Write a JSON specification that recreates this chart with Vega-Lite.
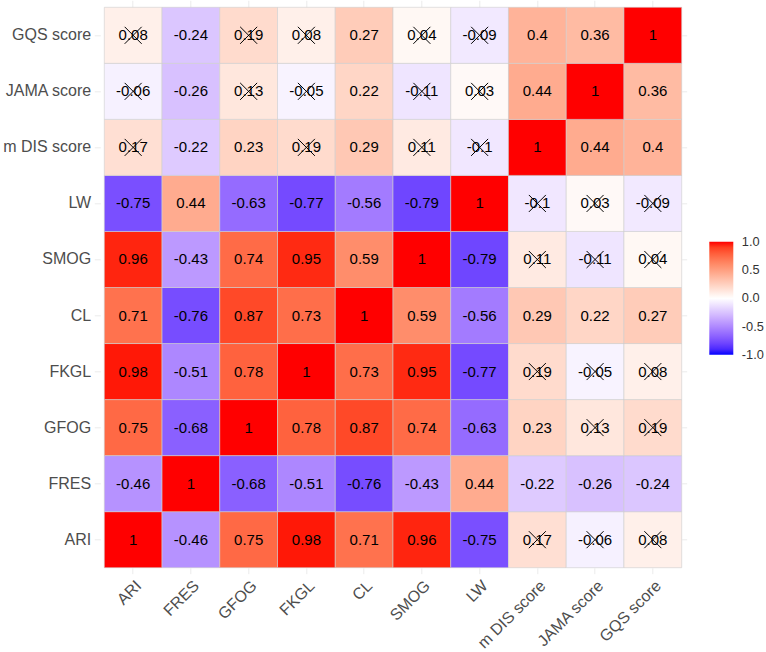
{
  "$schema": "https://vega.github.io/schema/vega-lite/v6.json",
  "width": 577.4,
  "height": 560.4,
  "autosize": {"type": "none"},
  "padding": {"left": 104.3, "top": 7.3, "right": 84.3, "bottom": 84.3},
  "background": "white",
  "config": {
    "view": {"stroke": null},
    "font": "Liberation Sans",
    "locale": {"number": {"decimal": ".", "thousands": ",", "grouping": [3], "currency": ["$", ""], "minus": "-"}},
    "axis": {"domain": false, "grid": false, "title": null, "labelFont": "Liberation Sans", "labelFontSize": 16, "labelColor": "#4d4d4d", "tickColor": "#ebebeb", "tickWidth": 1}
  },
  "data": {"values": [
    {"a":"ARI","b":"ARI","r":1},{"a":"ARI","b":"FRES","r":-0.46},{"a":"ARI","b":"GFOG","r":0.75},{"a":"ARI","b":"FKGL","r":0.98},{"a":"ARI","b":"CL","r":0.71},{"a":"ARI","b":"SMOG","r":0.96},{"a":"ARI","b":"LW","r":-0.75},{"a":"ARI","b":"m DIS score","r":0.17,"ns":1},{"a":"ARI","b":"JAMA score","r":-0.06,"ns":1},{"a":"ARI","b":"GQS score","r":0.08,"ns":1},
    {"a":"FRES","b":"ARI","r":-0.46},{"a":"FRES","b":"FRES","r":1},{"a":"FRES","b":"GFOG","r":-0.68},{"a":"FRES","b":"FKGL","r":-0.51},{"a":"FRES","b":"CL","r":-0.76},{"a":"FRES","b":"SMOG","r":-0.43},{"a":"FRES","b":"LW","r":0.44},{"a":"FRES","b":"m DIS score","r":-0.22},{"a":"FRES","b":"JAMA score","r":-0.26},{"a":"FRES","b":"GQS score","r":-0.24},
    {"a":"GFOG","b":"ARI","r":0.75},{"a":"GFOG","b":"FRES","r":-0.68},{"a":"GFOG","b":"GFOG","r":1},{"a":"GFOG","b":"FKGL","r":0.78},{"a":"GFOG","b":"CL","r":0.87},{"a":"GFOG","b":"SMOG","r":0.74},{"a":"GFOG","b":"LW","r":-0.63},{"a":"GFOG","b":"m DIS score","r":0.23},{"a":"GFOG","b":"JAMA score","r":0.13,"ns":1},{"a":"GFOG","b":"GQS score","r":0.19,"ns":1},
    {"a":"FKGL","b":"ARI","r":0.98},{"a":"FKGL","b":"FRES","r":-0.51},{"a":"FKGL","b":"GFOG","r":0.78},{"a":"FKGL","b":"FKGL","r":1},{"a":"FKGL","b":"CL","r":0.73},{"a":"FKGL","b":"SMOG","r":0.95},{"a":"FKGL","b":"LW","r":-0.77},{"a":"FKGL","b":"m DIS score","r":0.19,"ns":1},{"a":"FKGL","b":"JAMA score","r":-0.05,"ns":1},{"a":"FKGL","b":"GQS score","r":0.08,"ns":1},
    {"a":"CL","b":"ARI","r":0.71},{"a":"CL","b":"FRES","r":-0.76},{"a":"CL","b":"GFOG","r":0.87},{"a":"CL","b":"FKGL","r":0.73},{"a":"CL","b":"CL","r":1},{"a":"CL","b":"SMOG","r":0.59},{"a":"CL","b":"LW","r":-0.56},{"a":"CL","b":"m DIS score","r":0.29},{"a":"CL","b":"JAMA score","r":0.22},{"a":"CL","b":"GQS score","r":0.27},
    {"a":"SMOG","b":"ARI","r":0.96},{"a":"SMOG","b":"FRES","r":-0.43},{"a":"SMOG","b":"GFOG","r":0.74},{"a":"SMOG","b":"FKGL","r":0.95},{"a":"SMOG","b":"CL","r":0.59},{"a":"SMOG","b":"SMOG","r":1},{"a":"SMOG","b":"LW","r":-0.79},{"a":"SMOG","b":"m DIS score","r":0.11,"ns":1},{"a":"SMOG","b":"JAMA score","r":-0.11,"ns":1},{"a":"SMOG","b":"GQS score","r":0.04,"ns":1},
    {"a":"LW","b":"ARI","r":-0.75},{"a":"LW","b":"FRES","r":0.44},{"a":"LW","b":"GFOG","r":-0.63},{"a":"LW","b":"FKGL","r":-0.77},{"a":"LW","b":"CL","r":-0.56},{"a":"LW","b":"SMOG","r":-0.79},{"a":"LW","b":"LW","r":1},{"a":"LW","b":"m DIS score","r":-0.1,"ns":1},{"a":"LW","b":"JAMA score","r":0.03,"ns":1},{"a":"LW","b":"GQS score","r":-0.09,"ns":1},
    {"a":"m DIS score","b":"ARI","r":0.17,"ns":1},{"a":"m DIS score","b":"FRES","r":-0.22},{"a":"m DIS score","b":"GFOG","r":0.23},{"a":"m DIS score","b":"FKGL","r":0.19,"ns":1},{"a":"m DIS score","b":"CL","r":0.29},{"a":"m DIS score","b":"SMOG","r":0.11,"ns":1},{"a":"m DIS score","b":"LW","r":-0.1,"ns":1},{"a":"m DIS score","b":"m DIS score","r":1},{"a":"m DIS score","b":"JAMA score","r":0.44},{"a":"m DIS score","b":"GQS score","r":0.4},
    {"a":"JAMA score","b":"ARI","r":-0.06,"ns":1},{"a":"JAMA score","b":"FRES","r":-0.26},{"a":"JAMA score","b":"GFOG","r":0.13,"ns":1},{"a":"JAMA score","b":"FKGL","r":-0.05,"ns":1},{"a":"JAMA score","b":"CL","r":0.22},{"a":"JAMA score","b":"SMOG","r":-0.11,"ns":1},{"a":"JAMA score","b":"LW","r":0.03,"ns":1},{"a":"JAMA score","b":"m DIS score","r":0.44},{"a":"JAMA score","b":"JAMA score","r":1},{"a":"JAMA score","b":"GQS score","r":0.36},
    {"a":"GQS score","b":"ARI","r":0.08,"ns":1},{"a":"GQS score","b":"FRES","r":-0.24},{"a":"GQS score","b":"GFOG","r":0.19,"ns":1},{"a":"GQS score","b":"FKGL","r":0.08,"ns":1},{"a":"GQS score","b":"CL","r":0.27},{"a":"GQS score","b":"SMOG","r":0.04,"ns":1},{"a":"GQS score","b":"LW","r":-0.09,"ns":1},{"a":"GQS score","b":"m DIS score","r":0.4},{"a":"GQS score","b":"JAMA score","r":0.36},{"a":"GQS score","b":"GQS score","r":1}
  ]},
  "resolve": {"axis": {"x": "independent", "y": "independent"}},
  "layer": [
    {
      "mark": {"type": "rect", "stroke": "#cfcfcf", "strokeWidth": 0.6},
      "encoding": {
        "x": {"field": "a", "type": "nominal", "sort": ["ARI","FRES","GFOG","FKGL","CL","SMOG","LW","m DIS score","JAMA score","GQS score"], "scale": {"paddingInner": 0, "paddingOuter": 0},
          "axis": {"orient": "bottom", "labelAngle": -45, "labelAlign": "right", "labelBaseline": "top", "tickSize": 6, "offset": 0, "labelPadding": 3.5}},
        "y": {"field": "b", "type": "nominal", "sort": ["GQS score","JAMA score","m DIS score","LW","SMOG","CL","FKGL","GFOG","FRES","ARI"], "scale": {"paddingInner": 0, "paddingOuter": 0},
          "axis": {"orient": "left", "tickSize": 6, "offset": 4, "labelPadding": 3.6}},
        "color": {"field": "r", "type": "quantitative",
          "scale": {"domain": [-1, 0, 1], "range": ["#0000ff", "#ffffff", "#ff0000"], "interpolate": "lab"},
          "legend": {"title": null, "orient": "none", "legendX": 605, "legendY": 234.5, "gradientLength": 113, "gradientThickness": 24, "gradientStrokeWidth": 0, "values": [-1, -0.5, 0, 0.5, 1], "format": ".1f", "labelFontSize": 12.8, "labelColor": "#333333", "labelOffset": 8.5, "labelFont": "Liberation Sans",
            "encode": {"labels": {"update": {"baseline": {"value": "middle"}}}}}}
      }
    },
    {
      "mark": {"type": "text", "fontSize": 15, "color": "black", "font": "Liberation Sans"},
      "encoding": {
        "x": {"field": "a", "type": "nominal", "sort": ["ARI","FRES","GFOG","FKGL","CL","SMOG","LW","m DIS score","JAMA score","GQS score"], "axis": {"orient": "top", "labels": false, "tickSize": 7}},
        "y": {"field": "b", "type": "nominal", "sort": ["GQS score","JAMA score","m DIS score","LW","SMOG","CL","FKGL","GFOG","FRES","ARI"], "axis": {"orient": "right", "labels": false, "tickSize": 5}},
        "text": {"field": "r", "type": "quantitative", "format": ".2~f"}
      }
    },
    {
      "transform": [{"filter": "datum.ns == 1"}],
      "mark": {"type": "point", "shape": "M-1,-1L1,1M-1,1L1,-1", "size": 289, "filled": false, "stroke": "black", "strokeWidth": 1, "opacity": 1},
      "encoding": {
        "x": {"field": "a", "type": "nominal", "sort": ["ARI","FRES","GFOG","FKGL","CL","SMOG","LW","m DIS score","JAMA score","GQS score"], "axis": null},
        "y": {"field": "b", "type": "nominal", "sort": ["GQS score","JAMA score","m DIS score","LW","SMOG","CL","FKGL","GFOG","FRES","ARI"], "axis": null}
      }
    }
  ]
}
